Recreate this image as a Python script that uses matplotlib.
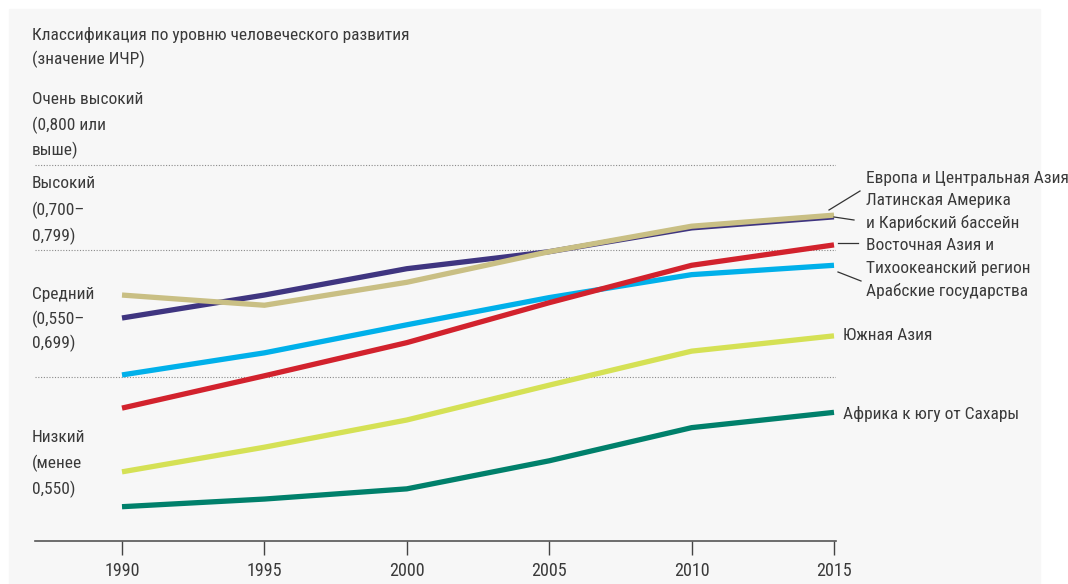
import matplotlib.pyplot as plt
from matplotlib.lines import Line2D
from matplotlib.patches import Rectangle

# ================= DATA =================
years = [1990, 1995, 2000, 2005, 2010, 2015]

europe_ca = [0.620, 0.647, 0.678, 0.698, 0.726, 0.739]
latin_am = [0.647, 0.635, 0.662, 0.698, 0.728, 0.741]
east_asia = [0.514, 0.552, 0.591, 0.638, 0.682, 0.706]
arab = [0.553, 0.579, 0.612, 0.644, 0.671, 0.682]
south_asia = [0.439, 0.468, 0.500, 0.541, 0.581, 0.599]
ss_africa = [0.398, 0.407, 0.419, 0.452, 0.491, 0.509]

thresholds = [0.800, 0.700, 0.550]

# ================= STYLE =================
W, H = 1068, 584
TXT = "#3a3a3a"
plt.rcParams["font.family"] = ["Roboto Condensed", "DejaVu Sans"]

fig = plt.figure(figsize=(W / 100, H / 100), dpi=100)
fig.patch.set_facecolor("white")
fig.add_artist(Rectangle((9 / W, 0), (1040 - 9) / W, 1 - 9 / H,
                         transform=fig.transFigure, color="#f7f7f7", zorder=0))


def px(x, y):
    return x / W, 1 - y / H


# axes placed in pixel coords: left 35, right 836, top 9, bottom 541
ax = fig.add_axes([35 / W, 1 - 541 / H, (836 - 35) / W, (541 - 9) / H])
ax.set_facecolor("none")
ax.set_xlim(1990 - 87 / 28.48, 2015 + 2 / 28.48)
ax.set_ylim(0.700 - 291 / 850, 0.700 + 241 / 850)

for t in thresholds:
    ax.axhline(t, color="#8a8a8a", lw=0.8, ls=(0, (1, 1.5)), zorder=1)

series = [
    (europe_ca, "#3f3580"),
    (latin_am, "#c9bf84"),
    (arab, "#00b0ea"),
    (east_asia, "#d2222d"),
    (south_asia, "#d5e155"),
    (ss_africa, "#00806b"),
]
for vals, col in series:
    ax.plot(years, vals, color=col, lw=3.8, solid_capstyle="butt",
            solid_joinstyle="miter", zorder=3, clip_on=False)

for s in ["top", "right", "left"]:
    ax.spines[s].set_visible(False)
ax.spines["bottom"].set_color("#555555")
ax.spines["bottom"].set_linewidth(1.2)
ax.set_yticks([])
ax.set_xticks(years)
ax.tick_params(axis="x", direction="out", length=10, width=1, color="#444444",
               labelsize=13, labelcolor=TXT, pad=5)

# ---------------- left labels ----------------
fs = 12.5
left_lines = [
    ("Классификация по уровню человеческого развития", 35),
    ("(значение ИЧР)", 59),
    ("Очень высокий", 100),
    ("(0,800 или", 125),
    ("выше)", 150),
    ("Высокий", 184),
    ("(0,700–", 210),
    ("0,799)", 236),
    ("Средний", 294),
    ("(0,550–", 319),
    ("0,699)", 343),
    ("Низкий", 438),
    ("(менее", 463),
    ("0,550)", 489),
]
for txt, y in left_lines:
    fig.text(*px(32, y), txt, fontsize=fs, color=TXT, va="center", ha="left")

# ---------------- right labels ----------------
right_lines = [
    ("Европа и Центральная Азия", 866, 178),
    ("Латинская Америка", 866, 201),
    ("и Карибский бассейн", 866, 223),
    ("Восточная Азия и", 866, 245),
    ("Тихоокеанский регион", 866, 269),
    ("Арабские государства", 866, 291),
    ("Южная Азия", 843, 336),
    ("Африка к югу от Сахары", 843, 414),
]
for txt, x, y in right_lines:
    fig.text(*px(x, y), txt, fontsize=fs, color=TXT, va="center", ha="left")

leaders = [
    ((829, 210), (860, 191)),
    ((834, 217), (854, 220)),
    ((838, 243), (858, 243)),
    ((838, 272), (861, 281)),
]
for (x0, y0), (x1, y1) in leaders:
    a, b = px(x0, y0)
    c, d = px(x1, y1)
    fig.add_artist(Line2D([a, c], [b, d], transform=fig.transFigure,
                          color="#333333", lw=0.9))

fig.savefig("out.png", dpi=100, facecolor=fig.get_facecolor())
